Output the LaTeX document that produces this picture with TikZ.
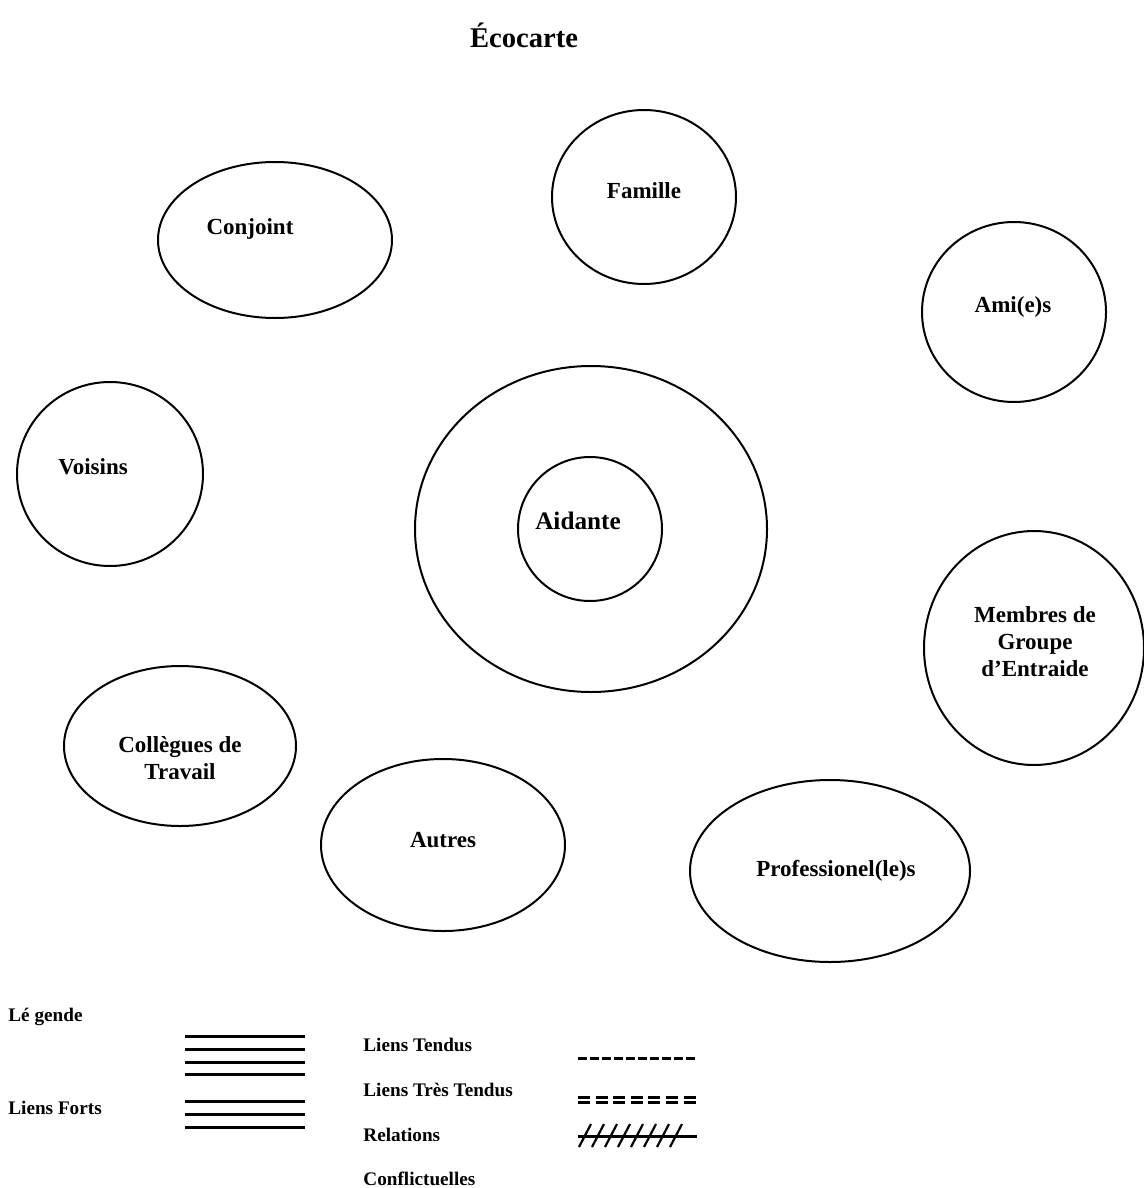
\documentclass[tikz,border=0pt]{standalone}
\usepackage{fontspec}
\setmainfont{Liberation Serif}
\usetikzlibrary{shapes.geometric}
\begin{document}
\begin{tikzpicture}[x=0.5pt,y=-0.5pt,
  cercle/.style={ellipse, draw, line width=1pt, inner sep=0pt},
  nom/.style={font=\bfseries\fontsize{11.5}{13.5}\selectfont, align=center},
  legende/.style={font=\bfseries\fontsize{9.6}{11}\selectfont, anchor=west, inner sep=0pt},
  trait/.style={line width=1.5pt}]
\useasboundingbox (0,0) rectangle (1144,1188);
% titre
\node[font=\bfseries\fontsize{14.3}{16}\selectfont] (titre) at (524,35) {Écocarte};
% cercles
\node[cercle, minimum width=117pt, minimum height=78pt] (conjoint) at (275,240) {};
\node[nom] (conjoint-txt) at (250,229) {Conjoint};
\node[cercle, minimum width=92pt, minimum height=87pt] (famille) at (644,197) {};
\node[nom] (famille-txt) at (644,191) {Famille};
\node[cercle, minimum width=92pt, minimum height=90pt] (amis) at (1014,312) {};
\node[nom] (amis-txt) at (1013,307) {Ami(e)s};
\node[cercle, minimum width=93pt, minimum height=92pt] (voisins) at (110,474) {};
\node[nom] (voisins-txt) at (93,467) {Voisins};
\node[cercle, minimum width=176pt, minimum height=163pt] (reseau) at (591,529) {};
\node[cercle, minimum width=72pt, minimum height=72pt] (aidante) at (590,529) {};
\node[nom, font=\bfseries\fontsize{12.6}{14}\selectfont] (aidante-txt) at (578,521) {Aidante};
\node[cercle, minimum width=110pt, minimum height=117pt] (groupe) at (1034,648) {};
\node[nom] (groupe-txt) at (1035,642) {Membres de\\Groupe\\d’Entraide};
\node[cercle, minimum width=116pt, minimum height=80pt] (collegues) at (180,746) {};
\node[nom] (collegues-txt) at (180,758) {Collègues de\\Travail};
\node[cercle, minimum width=122pt, minimum height=86pt] (autres) at (443,845) {};
\node[nom] (autres-txt) at (443,840) {Autres};
\node[cercle, minimum width=140pt, minimum height=91pt] (pros) at (830,871) {};
\node[nom] (pros-txt) at (836,871) {Professionel(le)s};
% legende
\node[legende] (leg) at (8,1017) {Lé gende};
\node[legende] (forts) at (8,1108) {Liens Forts};
\node[legende] (tendus) at (363,1045) {Liens Tendus};
\node[legende] (tres) at (363,1090) {Liens Très Tendus};
\node[legende] (relations) at (363,1135) {Relations};
\node[legende] (conflit) at (363,1179) {Conflictuelles};
\foreach \y in {1036,1049,1062,1074,1101,1114,1127}
  \draw[trait] (185,\y) -- (305,\y);
\draw[trait, dash pattern=on 4.5pt off 1.5pt] (578,1058) -- (697,1058);
\draw[trait, dash pattern=on 6pt off 2.8pt] (578,1097) -- (697,1097);
\draw[trait, dash pattern=on 6pt off 2.8pt] (578,1102) -- (697,1102);
\draw[trait] (578,1136) -- (697,1136);
\foreach \i in {0,...,7}
  \draw[line width=1.1pt] (579+13*\i,1147) -- (591+13*\i,1124);
\end{tikzpicture}
\end{document}
